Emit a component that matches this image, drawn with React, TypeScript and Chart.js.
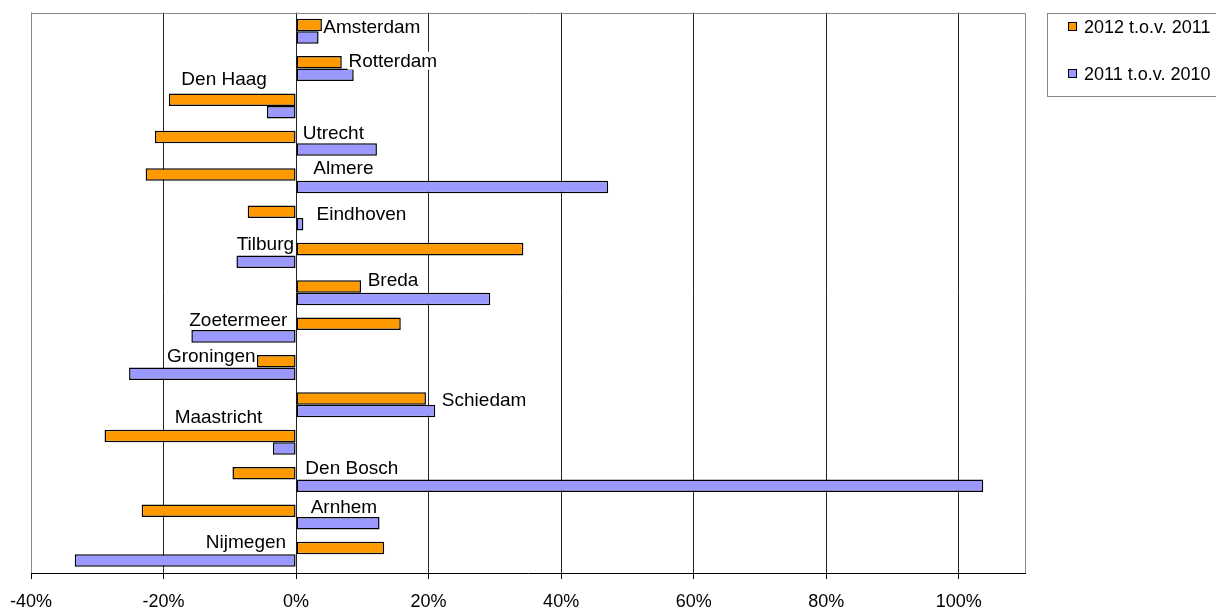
import React, { useEffect, useRef } from "react";
import { Chart, registerables } from "chart.js";

Chart.register(...registerables);

const cities = [
  "Amsterdam", "Rotterdam", "Den Haag", "Utrecht", "Almere", "Eindhoven", "Tilburg", "Breda",
  "Zoetermeer", "Groningen", "Schiedam", "Maastricht", "Den Bosch", "Arnhem", "Nijmegen",
];
const series2012 = [3.9, 6.9, -19.2, -21.3, -22.7, -7.3, 34.3, 9.8, 15.8, -5.9, 19.6, -28.9, -9.6, -23.3, 13.3];
const series2011 = [3.4, 8.7, -4.4, 12.2, 47.1, 1.1, -9.0, 29.3, -15.8, -25.2, 21.0, -3.5, 103.7, 12.6, -33.4];
const seriesNames = ["2012 t.o.v. 2011", "2011 t.o.v. 2010"];
const xTicks = [-40, -20, 0, 20, 40, 60, 80, 100];

// label anchors for the city names: value on x axis, alignment, offset in category units
const labelAnchorX = [4.1, 7.9, -4.4, 1.0, 2.6, 3.1, -0.3, 10.8, -1.3, -6.1, 22.0, -5.1, 1.4, 2.2, -1.5];
const labelAlign = ["left", "left", "right", "left", "left", "left", "right", "left", "right", "right", "left", "right", "left", "left", "right"];
const labelDy = [-0.11, -0.21, -0.72, -0.29, -0.34, -0.11, -0.31, -0.34, -0.27, -0.31, -0.13, -0.68, -0.31, -0.28, -0.33];

const FONT = "'Liberation Sans', Arial, sans-serif";
const ORANGE = "#FF9900";
const PURPLE = "#9999FF";

export default function App() {
  const ref = useRef<HTMLCanvasElement | null>(null);

  useEffect(() => {
    if (!ref.current) return;

    const borderPlugin = {
      id: "plotBorder",
      afterDraw(chart: any) {
        const { ctx, chartArea } = chart;
        ctx.save();
        ctx.strokeStyle = "#888";
        ctx.lineWidth = 1;
        ctx.beginPath();
        ctx.moveTo(Math.round(chartArea.left) + 0.5, Math.round(chartArea.top) + 0.5);
        ctx.lineTo(Math.round(chartArea.right) + 0.5, Math.round(chartArea.top) + 0.5);
        ctx.lineTo(Math.round(chartArea.right) + 0.5, Math.round(chartArea.bottom));
        ctx.stroke();
        ctx.restore();
      },
    };

    const labelPlugin = {
      id: "cityLabels",
      afterDatasetsDraw(chart: any) {
        const { ctx } = chart;
        const xs = chart.scales.x;
        const ys = chart.scales.y;
        const cat = ys.getPixelForValue(1) - ys.getPixelForValue(0);
        ctx.save();
        ctx.font = `19px ${FONT}`;
        ctx.textBaseline = "middle";
        cities.forEach((name, i) => {
          const x = xs.getPixelForValue(labelAnchorX[i]);
          const y = ys.getPixelForValue(i) + labelDy[i] * cat;
          const w = ctx.measureText(name).width;
          const left = labelAlign[i] === "left" ? x : x - w;
          ctx.fillStyle = "#fff";
          ctx.fillRect(left - 1, y - 9, w + 2, 18);
          ctx.fillStyle = "#000";
          ctx.textAlign = "left";
          ctx.fillText(name, left, y + 1);
        });
        ctx.restore();
      },
    };

    const legendPlugin = {
      id: "customLegend",
      afterDraw(chart: any) {
        const { ctx } = chart;
        ctx.save();
        ctx.strokeStyle = "#888";
        ctx.lineWidth = 1;
        ctx.strokeRect(1047.5, 13.5, 200, 83);
        const colors = [ORANGE, PURPLE];
        const ys = [27, 74];
        ctx.font = `18px ${FONT}`;
        ctx.textBaseline = "middle";
        seriesNames.forEach((n, i) => {
          ctx.fillStyle = colors[i];
          ctx.fillRect(1068.5, ys[i] - 4.5, 8, 8);
          ctx.strokeStyle = "#000";
          ctx.strokeRect(1068.5, ys[i] - 4.5, 8, 8);
          ctx.fillStyle = "#000";
          ctx.fillText(n, 1084, ys[i] + 1);
        });
        ctx.restore();
      },
    };

    const chart = new Chart(ref.current, {
      type: "bar",
      data: {
        labels: cities,
        datasets: [
          {
            label: seriesNames[0],
            data: series2012,
            backgroundColor: ORANGE,
            borderColor: "#000",
            borderWidth: 1.5,
            borderSkipped: false,
            categoryPercentage: 0.67,
            barPercentage: 1.0,
          },
          {
            label: seriesNames[1],
            data: series2011,
            backgroundColor: PURPLE,
            borderColor: "#000",
            borderWidth: 1.5,
            borderSkipped: false,
            categoryPercentage: 0.67,
            barPercentage: 1.0,
          },
        ],
      },
      options: {
        indexAxis: "y",
        responsive: false,
        animation: false,
        layout: { padding: { left: 31, right: 191, top: 12.5, bottom: 0 } },
        plugins: { legend: { display: false }, tooltip: { enabled: false } },
        scales: {
          x: {
            type: "linear",
            position: "bottom",
            min: -40,
            max: 110,
            afterBuildTicks: (scale: any) => {
              scale.ticks = xTicks.map((v) => ({ value: v }));
            },
            afterFit: (scale: any) => {
              scale.height = 37;
              scale.paddingLeft = 0;
              scale.paddingRight = 0;
            },
            grid: {
              color: (c: any) => (c.tick && c.tick.value === -40 ? "#888" : "#222"),
              lineWidth: 1,
              drawTicks: true,
              tickLength: 6,
              tickColor: "#000",
            },
            border: { display: true, color: "#000", width: 1 },
            ticks: {
              color: "#000",
              padding: 12,
              font: { family: FONT, size: 18 },
              callback: (v: any) => `${v}%`,
              maxRotation: 0,
              autoSkip: false,
            },
          },
          y: {
            type: "category",
            display: false,
            offset: true,
            grid: { display: false },
          },
        },
      },
      plugins: [borderPlugin, labelPlugin, legendPlugin],
    } as any);

    return () => chart.destroy();
  }, []);

  return (
    <div style={{ position: "absolute", left: 0, top: 0, width: 1216, height: 610, background: "#fff" }}>
      <canvas ref={ref} width={1216} height={610} style={{ display: "block" }} />
    </div>
  );
}
